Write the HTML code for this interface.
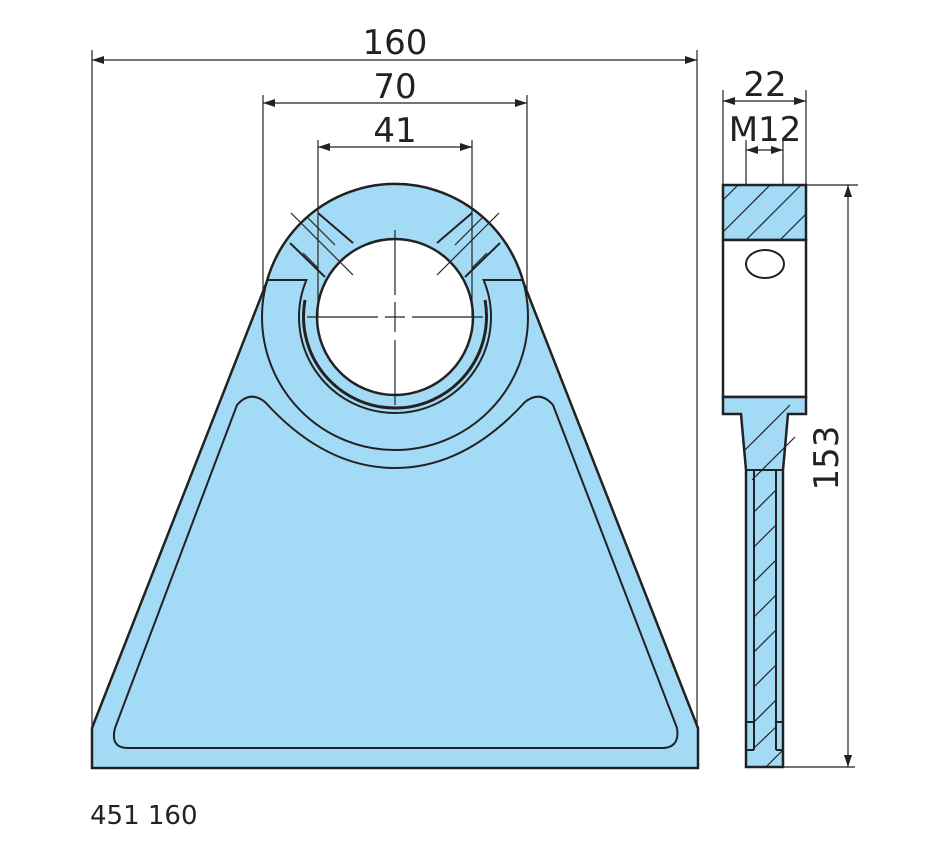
<!DOCTYPE html>
<html><head><style>
body{margin:0;background:#fff}
svg{display:block}
text{font-family:"DejaVu Sans","Liberation Sans",sans-serif;fill:#222}
</style></head><body>
<svg width="950" height="860" viewBox="0 0 950 860" xmlns="http://www.w3.org/2000/svg">
<defs>
<marker id="a" viewBox="0 0 12 8" refX="12" refY="4" markerWidth="12" markerHeight="8" orient="auto-start-reverse" markerUnits="userSpaceOnUse"><path d="M0,0L12,4L0,8z" fill="#222"/></marker>
</defs>
<g stroke="#222" fill="none">
<path d="M92,728 L266.4,283 A133,133 0 0 1 523.6,283 L698,728 L698,768 L92,768 Z" fill="#a3daf5" stroke-width="2.5"/>
<circle cx="395" cy="317" r="133" stroke-width="2"/>
<path d="M267,280 L306.4,280 A96,96 0 1 0 483.6,280 L522,280" stroke-width="2"/>
<path d="M305,300 A91.5,91.5 0 1 0 485,300" stroke-width="3"/>
<circle cx="395" cy="317" r="78" fill="#fff" stroke-width="2.5"/>
<path d="M237,405 Q250,390 265,402 Q325,468 395,468 Q465,468 525,402 Q540,390 553,405 L677,728 Q680,748 662,748 L128,748 Q110,748 115,728 Z" stroke-width="2"/>
<g stroke-width="2">
<line x1="318" y1="213" x2="353" y2="243"/><line x1="290" y1="243" x2="325" y2="277"/>
<line x1="472" y1="213" x2="437" y2="243"/><line x1="500" y1="243" x2="465" y2="277"/>
</g>
<g stroke-width="1.2">
<line x1="291" y1="213" x2="353" y2="275"/><line x1="499" y1="213" x2="437" y2="275"/>
<line x1="308" y1="218" x2="335" y2="245"/><line x1="303" y1="253" x2="318" y2="268"/>
<line x1="482" y1="218" x2="455" y2="245"/><line x1="487" y1="253" x2="472" y2="268"/>
</g>
<g stroke-width="1.2">
<line x1="395" y1="230" x2="395" y2="295"/><line x1="395" y1="302" x2="395" y2="332"/><line x1="395" y1="340" x2="395" y2="405"/>
<line x1="307" y1="317" x2="378" y2="317"/><line x1="385" y1="317" x2="405" y2="317"/><line x1="412" y1="317" x2="483" y2="317"/>
</g>
<g stroke-width="1.2">
<line x1="92" y1="50" x2="92" y2="728"/><line x1="697" y1="50" x2="697" y2="728"/>
<line x1="92" y1="60" x2="697" y2="60" marker-start="url(#a)" marker-end="url(#a)"/>
<line x1="263" y1="95" x2="263" y2="290"/><line x1="527" y1="95" x2="527" y2="290"/>
<line x1="263" y1="103" x2="527" y2="103" marker-start="url(#a)" marker-end="url(#a)"/>
<line x1="318" y1="140" x2="318" y2="317"/><line x1="472" y1="140" x2="472" y2="317"/>
<line x1="318" y1="147" x2="472" y2="147" marker-start="url(#a)" marker-end="url(#a)"/>
<line x1="723" y1="90" x2="723" y2="185"/><line x1="806" y1="90" x2="806" y2="185"/>
<line x1="723" y1="101" x2="806" y2="101" marker-start="url(#a)" marker-end="url(#a)"/>
<line x1="746" y1="140" x2="746" y2="262"/><line x1="783" y1="140" x2="783" y2="262"/>
<line x1="746" y1="150" x2="783" y2="150" marker-start="url(#a)" marker-end="url(#a)"/>
<line x1="806" y1="185" x2="858" y2="185"/><line x1="783" y1="767" x2="855" y2="767"/>
<line x1="848" y1="185" x2="848" y2="767" marker-start="url(#a)" marker-end="url(#a)"/>
</g>
<rect x="723" y="185" width="83" height="55" fill="#a3daf5" stroke-width="2.5"/>
<rect x="723" y="240" width="83" height="157" fill="#fff" stroke-width="2.5"/>
<path d="M723,397 L806,397 L806,414 L788,414 L783,470 L783,767 L746,767 L746,470 L741,414 L723,414 Z" fill="#a3daf5" stroke-width="2.5"/>
<g stroke-width="2"><line x1="754" y1="470" x2="754" y2="750"/><line x1="776" y1="470" x2="776" y2="750"/>
<line x1="746" y1="722" x2="754" y2="722"/><line x1="776" y1="722" x2="783" y2="722"/>
<line x1="746" y1="750" x2="754" y2="750"/><line x1="776" y1="750" x2="783" y2="750"/>
<line x1="746" y1="470" x2="783" y2="470"/></g>
<g stroke-width="1.2">
<line x1="723" y1="200" x2="738" y2="185"/><line x1="723" y1="232" x2="770" y2="185"/><line x1="746" y1="240" x2="801" y2="185"/><line x1="780" y1="240" x2="806" y2="214"/>
<line x1="745" y1="450" x2="790" y2="405"/><line x1="752" y1="480" x2="795" y2="437"/>
<line x1="754" y1="512" x2="776" y2="490"/><line x1="754" y1="547" x2="776" y2="525"/><line x1="754" y1="582" x2="776" y2="560"/><line x1="754" y1="617" x2="776" y2="595"/><line x1="754" y1="652" x2="776" y2="630"/><line x1="754" y1="687" x2="776" y2="665"/><line x1="754" y1="722" x2="776" y2="700"/><line x1="754" y1="748" x2="776" y2="727"/><line x1="766" y1="767" x2="783" y2="750"/>
</g>
<ellipse cx="765" cy="264" rx="19" ry="14" fill="#fff" stroke-width="2"/>
</g>
<g font-size="34">
<text x="395" y="54" text-anchor="middle">160</text>
<text x="395" y="98" text-anchor="middle">70</text>
<text x="395" y="142" text-anchor="middle">41</text>
<text x="765" y="96" text-anchor="middle">22</text>
<text x="765" y="141" text-anchor="middle">M12</text>
<text x="0" y="0" text-anchor="middle" transform="translate(838,458) rotate(-90)">153</text>
</g>
<text x="90" y="824" font-size="26">451 160</text>
</svg>
</body></html>
